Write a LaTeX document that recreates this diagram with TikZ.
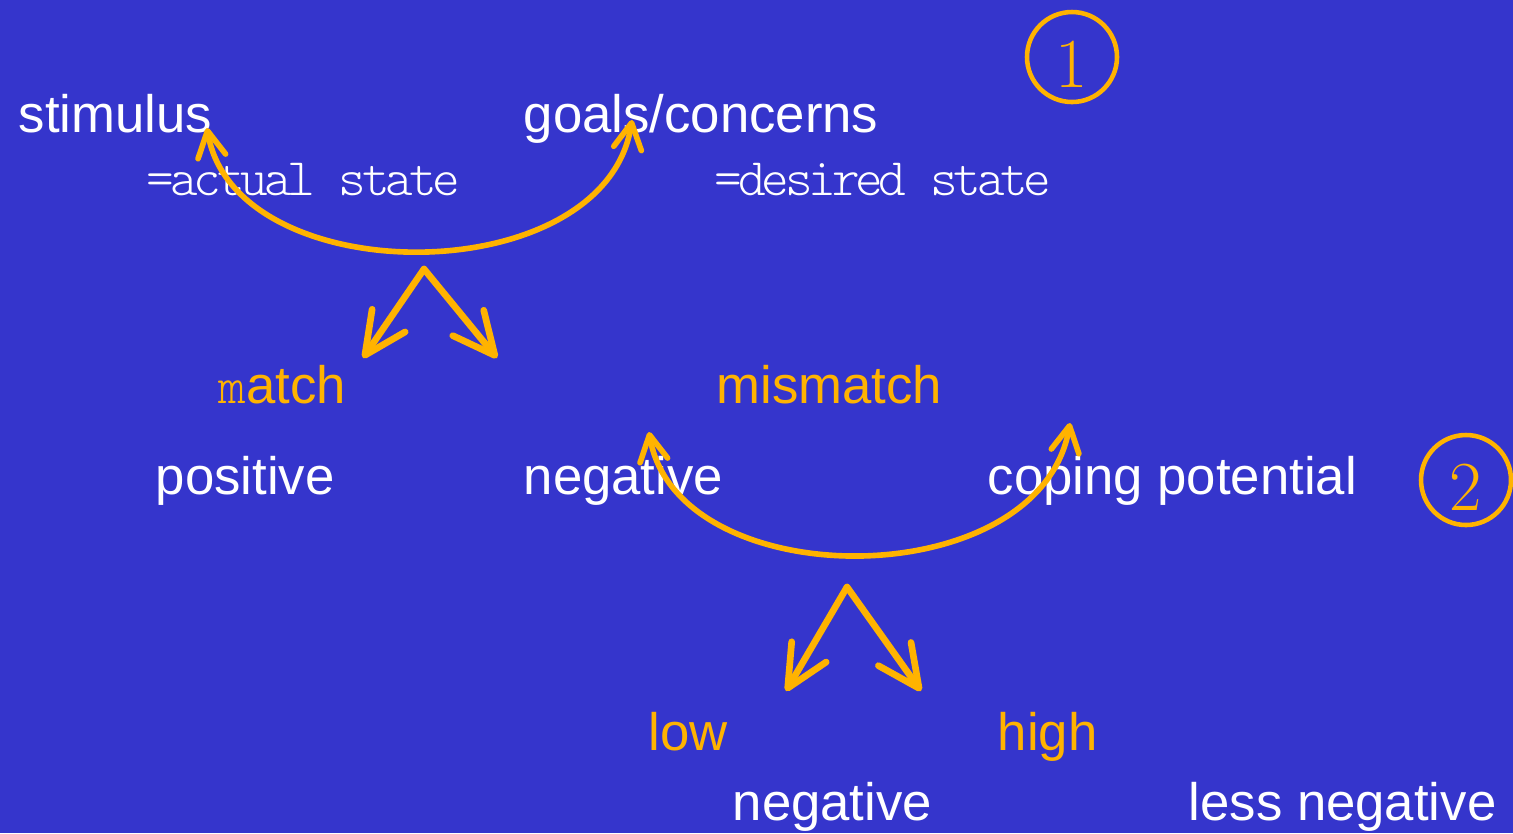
\documentclass[tikz,border=0pt]{standalone}
\usepackage{fontspec}
\usetikzlibrary{arrows.meta}
\newfontfamily\arialfont{Liberation Sans}
\newfontfamily\simfont[LetterSpace=-8]{lmmonolt10-regular.otf}
\definecolor{bgblue}{HTML}{3535CC}
\definecolor{gold}{HTML}{FFB300}

\begin{document}
\begin{tikzpicture}[
  lbl/.style={anchor=base west, inner sep=0pt, text=white, font=\arialfont\fontsize{15}{18}\selectfont},
  hot/.style={lbl, text=gold},
  note/.style={anchor=base west, inner sep=0pt, text=white, font=\simfont\fontsize{15}{18}\selectfont},
  num/.style={circle, draw=gold, line width=1.3pt, minimum size=0.9cm, inner sep=0pt, text=gold, text height=0.61cm, font=\fontsize{20}{24}\selectfont},
  arc/.style={gold, line width=1.6pt, {Straight Barb[round,length=2.6mm,width=2.8mm]}-{Straight Barb[round,length=2.6mm,width=2.8mm]}},
  fork/.style={gold, line width=1.9pt, line cap=round, -{Straight Barb[round,length=4.2mm,width=4mm]}}
]
\useasboundingbox (0,0) rectangle (15.13,-8.33);
\fill[bgblue] (0,0) rectangle (15.13,-8.33);
% Define the nodes
\node[lbl] at (0.18,-1.32) (stim) {stimulus};
\node[lbl] at (5.23,-1.32) (goal) {goals/concerns};
\node[note] at (1.46,-1.95) (act) {=actual state};
\node[note] at (7.14,-1.95) (des) {=desired state};
\node[num] at (10.72,-0.57) (one) {1};
\node[hot] at (2.18,-4.03) (match) {{\simfont\fontsize{15}{18}\selectfont m}atch};
\node[hot] at (7.16,-4.03) (mis) {mismatch};
\node[lbl] at (1.55,-4.94) (pos) {positive};
\node[lbl] at (5.23,-4.94) (neg) {negative};
\node[lbl] at (9.87,-4.94) (cop) {coping potential};
\node[num] at (14.66,-4.80) (two) {2};
\node[hot] at (6.48,-7.50) (low) {low};
\node[hot] at (9.97,-7.50) (high) {high};
\node[lbl] at (7.32,-8.20) (neglow) {negative};
\node[lbl] at (11.88,-8.20) (less) {less negative};
% Arrow end points
\coordinate (s1) at (2.07,-1.28);
\coordinate (g1) at (6.32,-1.20);
\coordinate (m0) at (4.24,-2.69);
\coordinate (m1) at (3.63,-3.58);
\coordinate (m2) at (4.97,-3.58);
\coordinate (n1) at (6.49,-4.32);
\coordinate (c1) at (10.70,-4.23);
\coordinate (p0) at (8.47,-5.87);
\coordinate (p1) at (7.86,-6.91);
\coordinate (p2) at (9.21,-6.91);
% Draw the paths
\draw[arc] (s1) .. controls (2.35,-2.93) and (6.05,-2.93) .. (g1);
\draw[fork] (m0) -- (m1);
\draw[fork] (m0) -- (m2);
\draw[arc] (n1) .. controls (6.77,-5.97) and (10.40,-5.97) .. (c1);
\draw[fork] (p0) -- (p1);
\draw[fork] (p0) -- (p2);
\end{tikzpicture}
\end{document}
